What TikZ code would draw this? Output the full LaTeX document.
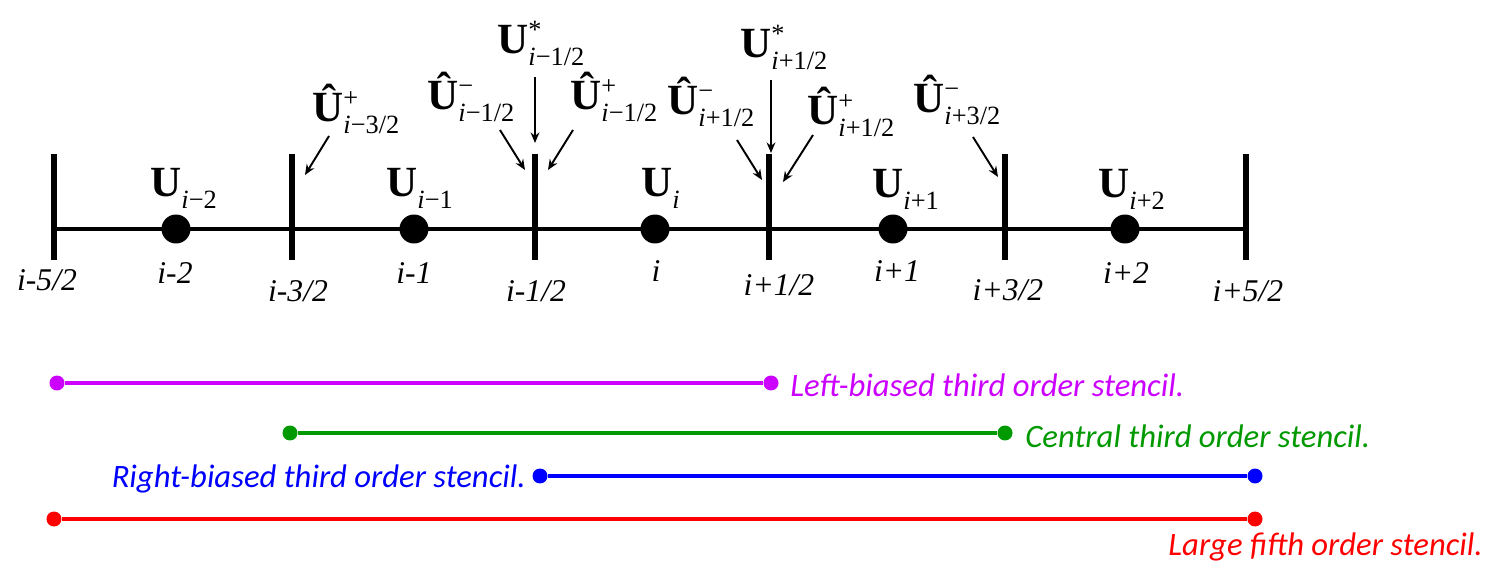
\documentclass[tikz,border=0pt]{standalone}
\usepackage{fontspec}
\setmainfont{Liberation Serif}
\newfontfamily\stencilfont{Carlito}
\usetikzlibrary{arrows.meta}
\definecolor{leftcol}{RGB}{204,0,255}
\definecolor{centcol}{RGB}{0,153,0}
\definecolor{rightcol}{RGB}{0,0,255}
\definecolor{fifthcol}{RGB}{255,0,0}

% bold U with stacked super- and subscript
\newcommand{\scriptfnt}{\fontsize{15}{15}\selectfont}
\newcommand{\Ulab}[3]{\textbf{#1}\rlap{\raisebox{9pt}{\scriptfnt #2}}\raisebox{-6.5pt}{\scriptfnt #3}}

\begin{document}
\begin{tikzpicture}[x=0.02cm, y=-0.02cm,
    axis/.style={line width=2.8pt},
    face/.style={line width=3pt},
    cell/.style={circle, fill=black, inner sep=0pt, minimum size=0.58cm},
    ulab/.style={anchor=base west, inner sep=0pt, font=\fontsize{24.5}{24.5}\selectfont},
    idx/.style={anchor=base, inner sep=0pt, font=\fontsize{18}{18}\selectfont\itshape},
    ptr/.style={-{Stealth[length=6pt, width=5pt]}, line width=1.1pt},
    sdot/.style={circle, inner sep=0pt, minimum size=0.3cm},
    stencil/.style={line width=2.8pt},
    stxt/.style={inner sep=0pt, font=\stencilfont\itshape\fontsize{18.6}{18.6}\selectfont}
]
    \useasboundingbox (0,0) rectangle (1494,567);

    % Cell faces and mesh line
    \foreach \n/\x in {m5/54, m3/292, m1/535, p1/769, p3/1005, p5/1246}
        \coordinate (f\n) at (\x,229);
    \draw[axis] (fm5) -- (fp5);
    \foreach \n in {m5, m3, m1, p1, p3, p5}
        \draw[face] (f\n) ++(0,-75) -- ++(0,106);

    % Cell centres
    \foreach \n/\x in {m2/176, m1/414, 0/655, p1/893, p2/1125}
        \node[cell] (c\n) at (\x,229) {};

    % Cell averages
    \node[ulab] (u-m2) at (150,197) {\Ulab{U}{}{\textit{i}−2}};
    \node[ulab] (u-m1) at (386,197) {\Ulab{U}{}{\textit{i}−1}};
    \node[ulab] (u-0)  at (641,197) {\Ulab{U}{}{\textit{i}}};
    \node[ulab] (u-p1) at (872,198) {\Ulab{U}{}{\textit{i}+1}};
    \node[ulab] (u-p2) at (1098,198) {\Ulab{U}{}{\textit{i}+2}};

    % Indices
    \node[idx] (l-fm5) at (47,291) {i-5/2};
    \node[idx] (l-cm2) at (175,284) {i-2};
    \node[idx] (l-fm3) at (298,302) {i-3/2};
    \node[idx] (l-cm1) at (414,284) {i-1};
    \node[idx] (l-fm1) at (536,302) {i-1/2};
    \node[idx] (l-c0)  at (656,282) {i};
    \node[idx] (l-fp1) at (779,296) {i+1/2};
    \node[idx] (l-cp1) at (897,282) {i+1};
    \node[idx] (l-fp3) at (1008,301) {i+3/2};
    \node[idx] (l-cp2) at (1126,284) {i+2};
    \node[idx] (l-fp5) at (1248,302) {i+5/2};

    % Reconstructed face values
    \node[ulab] (r-m3p) at (312,122) {\Ulab{\^{U}}{+}{\textit{i}−3/2}};
    \node[ulab] (r-m1m) at (427,110) {\Ulab{\^{U}}{−}{\textit{i}−1/2}};
    \node[ulab] (s-m1)  at (497,54)  {\Ulab{U}{*}{\textit{i}−1/2}};
    \node[ulab] (r-m1p) at (570,110) {\Ulab{\^{U}}{+}{\textit{i}−1/2}};
    \node[ulab] (r-p1m) at (667,115) {\Ulab{\^{U}}{−}{\textit{i}+1/2}};
    \node[ulab] (s-p1)  at (740,58)  {\Ulab{U}{*}{\textit{i}+1/2}};
    \node[ulab] (r-p1p) at (807,125) {\Ulab{\^{U}}{+}{\textit{i}+1/2}};
    \node[ulab] (r-p3m) at (913,113) {\Ulab{\^{U}}{−}{\textit{i}+3/2}};

    % Pointers to faces
    \foreach \n/\xa/\ya/\xb/\yb in {m3p/329/136/305/175, m1m/500/130/525/170,
            m1s/535/77/535/143, m1p/573/130/548/170, p1m/737/140/762/180,
            p1s/771/80/771/153, p1p/813/135/783/182, p3m/973/137/998/177} {
        \coordinate (t-\n) at (\xa,\ya);
        \coordinate (h-\n) at (\xb,\yb);
        \draw[ptr] (t-\n) -- (h-\n);
    }

    % Stencils
    \node[sdot, fill=leftcol] (lb-a) at (57,383) {};
    \node[sdot, fill=leftcol] (lb-b) at (771,383) {};
    \draw[stencil, leftcol] (lb-a) -- (lb-b);
    \node[stxt, text=leftcol, anchor=base west] (lb-t) at (790,397) {Left-biased third order stencil.};

    \node[sdot, fill=centcol] (ct-a) at (290,433) {};
    \node[sdot, fill=centcol] (ct-b) at (1005,433) {};
    \draw[stencil, centcol] (ct-a) -- (ct-b);
    \node[stxt, text=centcol, anchor=base west] (ct-t) at (1025,447) {Central third order stencil.};

    \node[sdot, fill=rightcol] (rb-a) at (540,476) {};
    \node[sdot, fill=rightcol] (rb-b) at (1255,476) {};
    \draw[stencil, rightcol] (rb-a) -- (rb-b);
    \node[stxt, text=rightcol, anchor=base east] (rb-t) at (526,487) {Right-biased third order stencil.};

    \node[sdot, fill=fifthcol] (lf-a) at (54,519) {};
    \node[sdot, fill=fifthcol] (lf-b) at (1255,519) {};
    \draw[stencil, fifthcol] (lf-a) -- (lf-b);
    \node[stxt, text=fifthcol, anchor=base east] (lf-t) at (1483,555) {Large fifth order stencil.};
\end{tikzpicture}
\end{document}
